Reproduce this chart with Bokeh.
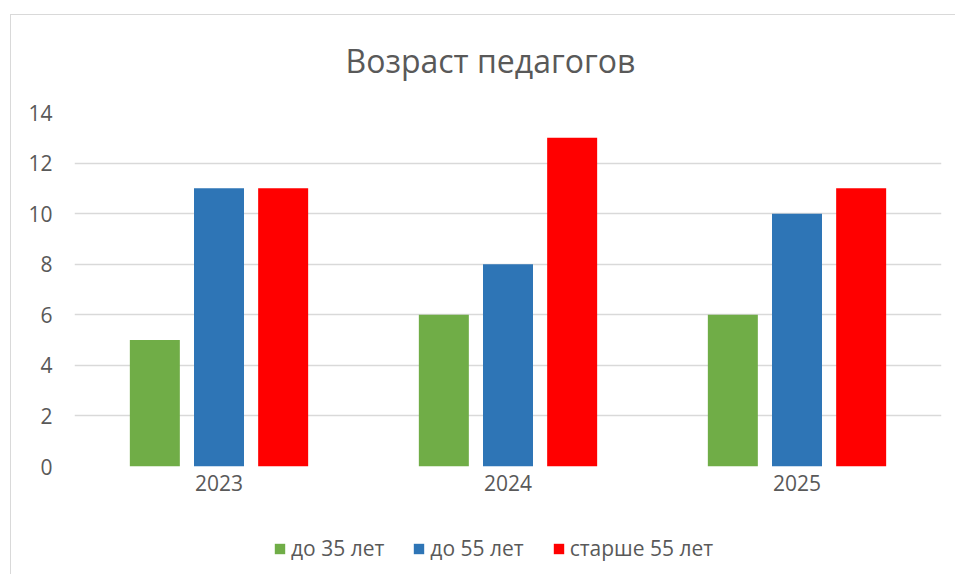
from bokeh.plotting import figure
from bokeh.layouts import column
from bokeh.models import ColumnDataSource, FactorRange, Range1d, Legend, LegendItem
from bokeh.transform import dodge
from bokeh.embed import file_html
from bokeh.resources import INLINE

years = ["2023", "2024", "2025"]
under35 = [5, 6, 6]
under55 = [11, 8, 10]
over55 = [11, 13, 11]
series_names = ["до 35 лет", "до 55 лет", "старше 55 лет"]
colors = ["#70AD47", "#2E75B6", "#FF0000"]

source = ColumnDataSource(dict(year=years, a=under35, b=under55, c=over55))

FONT = "Open Sans"
TXT = "#595959"
W = 945

p = figure(
    x_range=FactorRange(*years, range_padding=0),
    y_range=Range1d(0, 14),
    width=W, height=510,
    output_backend="svg", toolbar_location=None,
    min_border_left=64, min_border_right=14, min_border_top=112, min_border_bottom=44,
    title="Возраст педагогов",
)
p.border_fill_color = None

p.title.align = "left"
p.title.text_font = FONT
p.title.text_font_size = "32px"
p.title.text_font_style = "normal"
p.title.text_color = TXT
p.title.offset = 271
p.title.standoff = 61

p.outline_line_color = None
p.xgrid.grid_line_color = None
p.ygrid.grid_line_color = "#D9D9D9"
p.ygrid.grid_line_width = 1.5

p.yaxis.ticker = [0, 2, 4, 6, 8, 10, 12, 14]
for ax in (p.xaxis[0], p.yaxis[0]):
    ax.axis_line_color = None
    ax.major_tick_line_color = None
    ax.minor_tick_line_color = None
    ax.major_label_text_font = FONT
    ax.major_label_text_font_size = "21px"
    ax.major_label_text_color = TXT
p.yaxis.major_label_standoff = 22
p.xaxis.major_label_standoff = 8
p.xaxis.major_tick_out = 0
p.yaxis.major_tick_out = 0

off = 0.222
w = 0.173
p.vbar(x=dodge("year", -off, range=p.x_range), top="a", width=w, source=source,
       fill_color=colors[0], line_color=None)
p.vbar(x=dodge("year", 0, range=p.x_range), top="b", width=w, source=source,
       fill_color=colors[1], line_color=None)
p.vbar(x=dodge("year", off, range=p.x_range), top="c", width=w, source=source,
       fill_color=colors[2], line_color=None)

# legend strip below the chart (swatch renderers are zero-height, off-range)
lg = figure(width=W, height=64, x_range=Range1d(0, 1), y_range=Range1d(0, 1),
            output_backend="svg", toolbar_location=None,
            min_border_left=0, min_border_right=0, min_border_top=0, min_border_bottom=0)
lg.border_fill_color = None
lg.background_fill_color = None
lg.axis.visible = False
lg.grid.grid_line_color = None
lg.outline_line_color = None
swatch_src = ColumnDataSource(dict(x=[-5], top=[0]))
items = []
for name, col in zip(series_names, colors):
    r = lg.vbar(x="x", top="top", width=0.1, source=swatch_src, fill_color=col, line_color=None)
    items.append(LegendItem(label=name, renderers=[r]))

legend = Legend(items=items, orientation="horizontal", location=(199, 12))
legend.border_line_color = None
legend.background_fill_alpha = 0
legend.label_text_font = FONT
legend.label_text_font_size = "21px"
legend.label_text_color = TXT
legend.glyph_width = 13
legend.glyph_height = 13
legend.label_standoff = 5
legend.spacing = 28
legend.padding = 0
legend.margin = 0
lg.add_layout(legend, "center")

layout = column(p, lg, spacing=0)
layout.styles = {
    "margin-left": "10px",
    "background": ("linear-gradient(#D9D9D9, #D9D9D9) 0px 14px / 100% 1px no-repeat, "
                   "linear-gradient(#D9D9D9, #D9D9D9) 0px 14px / 1px 100% no-repeat, white"),
}

open("out.html", "w").write(file_html(layout, INLINE))
